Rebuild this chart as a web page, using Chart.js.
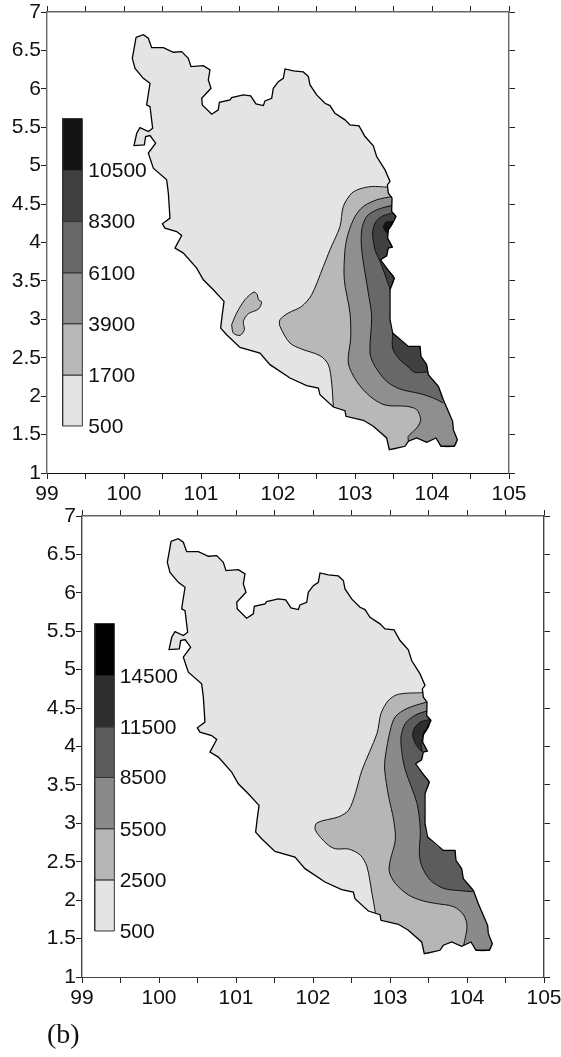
<!DOCTYPE html>
<html>
<head>
<meta charset="utf-8">
<script src="https://cdn.jsdelivr.net/npm/chart.js@4"></script>
<style>
  html, body { margin: 0; padding: 0; background: #fff; width: 561px; height: 1057px; overflow: hidden; }
  canvas { position: absolute; left: 0; }
  #chartA { top: 0; }
  #chartB { top: 500px; }
  #caption { position: absolute; left: 47px; top: 1018px; font: 28px "Liberation Serif", serif; color: #111; }
</style>
</head>
<body>
<canvas id="chartA" width="561" height="500"></canvas>
<canvas id="chartB" width="561" height="520"></canvas>
<div id="caption">(b)</div>
<script>
// AXIS LABELS
const xTickLabels = ['99', '100', '101', '102', '103', '104', '105'];
const yTickLabels = ['1', '1.5', '2', '2.5', '3', '3.5', '4', '4.5', '5', '5.5', '6', '6.5', '7'];

// COASTLINE, clockwise from the north west tip [lon, lat]
const coast = [
  [100.156,6.671],[100.251,6.705],[100.316,6.658],[100.359,6.536],[100.511,6.536],[100.641,6.476],[100.749,6.484],
  [100.835,6.397],[100.870,6.289],[101.030,6.302],[101.117,6.246],[101.095,6.116],[101.130,6.007],[101.009,5.877],
  [101.017,5.791],[101.139,5.669],[101.225,5.726],[101.238,5.825],[101.377,5.856],[101.398,5.886],[101.550,5.921],
  [101.645,5.908],[101.714,5.804],[101.810,5.782],[101.831,5.843],[101.918,5.877],[101.939,6.007],[102.004,6.094],
  [102.069,6.137],[102.091,6.259],[102.199,6.233],[102.329,6.220],[102.394,6.159],[102.416,6.051],[102.502,5.921],
  [102.610,5.812],[102.675,5.782],[102.740,5.682],[102.870,5.596],[102.935,5.531],[103.052,5.518],[103.130,5.379],
  [103.238,5.257],[103.281,5.119],[103.390,4.945],[103.455,4.794],[103.420,4.750],[103.433,4.642],[103.481,4.577],
  [103.476,4.404],[103.532,4.339],[103.476,4.230],[103.433,4.165],[103.424,4.057],[103.485,3.940],[103.433,3.927],
  [103.411,3.827],[103.333,3.775],[103.411,3.667],[103.511,3.537],[103.455,3.385],[103.455,2.995],[103.489,2.821],
  [103.693,2.648],[103.844,2.648],[103.857,2.518],[103.931,2.410],[103.952,2.280],[104.082,2.128],[104.147,1.954],
  [104.268,1.673],[104.277,1.564],[104.329,1.434],[104.290,1.348],[104.117,1.348],[104.052,1.456],[103.931,1.400],
  [103.801,1.456],[103.693,1.413],[103.649,1.348],[103.446,1.304],[103.411,1.456],[103.238,1.608],[103.108,1.686],
  [102.883,1.738],[102.870,1.811],[102.719,1.859],[102.545,2.019],[102.524,2.106],[102.372,2.137],[102.156,2.236],
  [101.896,2.410],[101.766,2.561],[101.506,2.635],[101.333,2.800],[101.255,2.886],[101.273,3.038],[101.299,3.233],
  [101.160,3.385],[101.030,3.515],[100.944,3.667],[100.771,3.862],[100.662,3.927],[100.749,4.091],[100.684,4.143],
  [100.532,4.187],[100.498,4.243],[100.597,4.317],[100.576,4.642],[100.554,4.815],[100.381,4.967],[100.316,5.162],
  [100.411,5.292],[100.338,5.392],[100.281,5.379],[100.264,5.270],[100.130,5.262],[100.165,5.422],[100.208,5.496],
  [100.316,5.444],[100.372,5.487],[100.338,5.769],[100.294,5.791],[100.338,6.072],[100.251,6.137],[100.143,6.267],
  [100.108,6.397],[100.143,6.593]
];

// MAP (a) CONTOURS, each runs from its southern coast end to its northern coast end
const contourA1700 = [
  [102.719,1.859],[102.697,2.171],[102.654,2.410],[102.545,2.527],[102.307,2.613],[102.156,2.691],[102.026,2.908],
  [102.026,2.995],[102.134,3.082],[102.307,3.168],[102.437,3.320],[102.589,3.688],[102.675,3.905],[102.805,4.208],
  [102.848,4.469],[102.957,4.642],[103.065,4.698],[103.216,4.729],[103.420,4.720]
];
const contourA3900 = [
  [103.693,1.413],[103.693,1.478],[103.801,1.586],[103.853,1.694],[103.801,1.824],[103.671,1.868],[103.390,1.885],
  [103.195,1.998],[103.022,2.193],[102.913,2.431],[102.944,2.756],[102.935,3.082],[102.861,3.515],[102.870,3.905],
  [102.913,4.122],[103.000,4.339],[103.108,4.469],[103.281,4.555],[103.481,4.599]
];
const contourA6100 = [
  [104.147,1.911],[104.017,1.976],[103.844,2.033],[103.584,2.093],[103.411,2.193],[103.260,2.388],[103.195,2.561],
  [103.216,3.038],[103.173,3.342],[103.087,3.905],[103.087,4.165],[103.152,4.339],[103.281,4.425],[103.476,4.482]
];
const contourA8300North = [
  [103.455,3.394],[103.390,3.580],[103.316,3.775],[103.260,3.905],[103.229,4.122],[103.260,4.252],[103.346,4.339],[103.476,4.382]
];
const contourA8300South = [
  [103.931,2.314],[103.771,2.310],[103.693,2.379],[103.563,2.496],[103.489,2.626],[103.489,2.821]
];
// closed pockets, no coast needed
const pocketA1700 = [
  [101.398,2.930],[101.463,3.082],[101.571,3.255],[101.688,3.355],[101.732,3.320],[101.745,3.255],[101.788,3.225],
  [101.745,3.133],[101.615,3.073],[101.550,2.973],[101.563,2.865],[101.506,2.791],[101.420,2.821]
];
const pocketA10500 = [
  [103.498,4.273],[103.403,4.265],[103.368,4.200],[103.420,4.113],[103.433,4.165],[103.476,4.230]
];

// MAP (b) CONTOURS
const contourB2500 = [
  [102.810,1.837],[102.766,2.088],[102.701,2.435],[102.615,2.586],[102.463,2.665],[102.290,2.669],[102.182,2.730],
  [102.030,2.912],[102.052,3.007],[102.333,3.085],[102.463,3.172],[102.550,3.388],[102.636,3.692],[102.831,4.169],
  [102.883,4.430],[102.983,4.603],[103.113,4.681],[103.430,4.700]
];
const contourB5500 = [
  [103.957,1.416],[104.000,1.655],[103.957,1.806],[103.827,1.915],[103.589,1.958],[103.437,1.988],[103.242,2.066],
  [103.069,2.218],[102.991,2.370],[103.004,2.521],[103.069,2.782],[103.048,3.042],[102.983,3.345],[102.931,3.692],
  [102.939,3.866],[103.004,4.213],[103.069,4.386],[103.221,4.495],[103.481,4.581]
];
const contourB8500 = [
  [104.074,2.110],[103.913,2.123],[103.697,2.153],[103.524,2.261],[103.416,2.435],[103.381,2.608],[103.394,2.912],
  [103.351,3.258],[103.199,3.692],[103.156,3.909],[103.143,4.126],[103.199,4.300],[103.329,4.408],[103.481,4.464]
];
const pocketB11500 = [
  [103.524,4.352],[103.394,4.321],[103.316,4.235],[103.294,4.148],[103.329,4.039],[103.416,3.931],[103.407,4.061],
  [103.437,4.148],[103.502,4.256]
];

// COLOUR KEYS
const keyBreaksA = [1.612, 2.275, 2.943, 3.606, 4.273, 4.937, 5.613];
const keyLabelsA = ['500', '1700', '3900', '6100', '8300', '10500'];
const keyColorsA = ['#e4e4e4', '#b8b8b8', '#8f8f8f', '#686868', '#404040', '#141414'];
const keyEdgesA = [99.203, 99.459];
const keyLabelLonA = 99.537;

const keyBreaksB = [1.599, 2.264, 2.930, 3.597, 4.256, 4.919, 5.600];
const keyLabelsB = ['500', '2500', '5500', '8500', '11500', '14500'];
const keyColorsB = ['#e4e4e4', '#b6b6b6', '#8a8a8a', '#5c5c5c', '#2e2e2e', '#000000'];
const keyEdgesB = [99.165, 99.420];
const keyLabelLonB = 99.489;

const FONT = '"Liberation Sans", Arial, sans-serif';

// NEAREST COAST POINT TO A CONTOUR END
function nearestCoast(p) {
  let best = 0, bestD = Infinity;
  coast.forEach((c, i) => {
    const d = (c[0] - p[0]) ** 2 + (c[1] - p[1]) ** 2;
    if (d < bestD) { bestD = d; best = i; }
  });
  return best;
}

// CONTOUR + COAST BETWEEN ITS TWO ENDS = CLOSED BAND
function bandShape(contour) {
  const start = nearestCoast(contour[contour.length - 1]);
  const end = nearestCoast(contour[0]);
  const arc = [];
  for (let i = start; i !== end; i = (i + 1) % coast.length) arc.push(coast[i]);
  arc.push(coast[end]);
  return contour.concat(arc, [contour[0]]);
}

function shapeDataset(list, color, tension, line, width) {
  return {
    data: list.map(p => ({ x: p[0], y: p[1] })),
    showLine: true,
    fill: color ? 'shape' : false,
    backgroundColor: color || 'transparent',
    borderColor: line,
    borderWidth: width,
    tension: tension,
    pointRadius: 0
  };
}

// A BAND: FILL WITHOUT BORDER, THEN ITS CONTOUR LINE ONLY
function bandDatasets(contour, color) {
  return [
    shapeDataset(bandShape(contour), color, 0.3, 'transparent', 0),
    shapeDataset(contour, null, 0.3, '#111', 1)
  ];
}

function pocketDataset(pocket, color, tension) {
  return shapeDataset(pocket.concat([pocket[0]]), color, tension, '#111', 1);
}

// COLOUR KEY RECTANGLES
function keyDatasets(breaks, colors, edges) {
  return colors.map((color, i) => shapeDataset([
    [edges[0], breaks[i]], [edges[1], breaks[i]], [edges[1], breaks[i + 1]],
    [edges[0], breaks[i + 1]], [edges[0], breaks[i]]
  ], color, 0, '#333', 1));
}

// KEY LABELS NEXT TO THE RECTANGLES
function keyLabelPlugin(labels, breaks, lon) {
  return {
    id: 'keyLabels',
    afterDatasetsDraw(chart) {
      const ctx = chart.ctx;
      ctx.save();
      ctx.font = '21px ' + FONT;
      ctx.fillStyle = '#111';
      ctx.textAlign = 'left';
      ctx.textBaseline = 'middle';
      labels.forEach((label, i) => {
        ctx.fillText(label, chart.scales.x.getPixelForValue(lon), chart.scales.y.getPixelForValue(breaks[i]) + 1);
      });
      ctx.restore();
    }
  };
}

function fixSize(prop, value) {
  return scale => {
    scale[prop] = value;
    scale.paddingLeft = scale.paddingRight = scale.paddingTop = scale.paddingBottom = 0;
  };
}

function axisOptions(extra, color, width) {
  return Object.assign({
    type: 'linear',
    border: { color: color, width: width },
    grid: { drawOnChartArea: false, drawTicks: true, tickLength: 6, color: '#222', lineWidth: 1 }
  }, extra);
}

// CREATE ONE MAP
function creaMappa(id, datasets, plugin, box, borders) {
  datasets.forEach((d, i) => { d.order = datasets.length - i; });
  const mainTicks = {
    autoSkip: false, maxRotation: 0, minRotation: 0, stepSize: 0.5,
    font: { family: FONT, size: 21 }, color: '#111'
  };
  const noLabels = { stepSize: 0.5, autoSkip: false, display: false };
  return new Chart(document.getElementById(id), {
    type: 'scatter',
    data: { datasets: datasets },
    plugins: [plugin],
    options: {
      responsive: false,
      animation: false,
      layout: { padding: 0 },
      plugins: { legend: { display: false }, tooltip: { enabled: false } },
      scales: {
        x: axisOptions({
          position: 'bottom', min: 99, max: 105, afterFit: fixSize('height', box.bottom),
          ticks: Object.assign({}, mainTicks, {
            padding: 3,
            callback: v => xTickLabels.includes(String(v)) ? String(v) : ''
          })
        }, borders.bottom, 1),
        y: axisOptions({
          position: 'left', min: 1, max: 7, afterFit: fixSize('width', box.left),
          ticks: Object.assign({}, mainTicks, {
            padding: 0,
            callback: v => yTickLabels.includes(String(v)) ? String(v) : ''
          })
        }, borders.left, 1.4),
        xTop: axisOptions({
          position: 'top', min: 99, max: 105, afterFit: fixSize('height', box.top), ticks: noLabels
        }, borders.top, 1.4),
        yRight: axisOptions({
          position: 'right', min: 1, max: 7, afterFit: fixSize('width', box.right), ticks: noLabels
        }, borders.right, 1.4)
      }
    }
  });
}

const closedCoast = coast.concat([coast[0]]);

// MAP (a)
creaMappa('chartA', [
  shapeDataset(closedCoast, keyColorsA[0], 0, 'transparent', 0),
  ...bandDatasets(contourA1700, keyColorsA[1]),
  pocketDataset(pocketA1700, keyColorsA[1], 0.3),
  ...bandDatasets(contourA3900, keyColorsA[2]),
  ...bandDatasets(contourA6100, keyColorsA[3]),
  ...bandDatasets(contourA8300North, keyColorsA[4]),
  ...bandDatasets(contourA8300South, keyColorsA[4]),
  pocketDataset(pocketA10500, keyColorsA[5], 0.2),
  shapeDataset(closedCoast, null, 0, '#000', 1.3),
  ...keyDatasets(keyBreaksA, keyColorsA, keyEdgesA)
],
  keyLabelPlugin(keyLabelsA, keyBreaksA, keyLabelLonA),
  { left: 47, right: 52, top: 12, bottom: 27 },
  { left: '#666', right: '#666', top: '#666', bottom: '#111' });

// MAP (b)
creaMappa('chartB', [
  shapeDataset(closedCoast, keyColorsB[0], 0, 'transparent', 0),
  ...bandDatasets(contourB2500, keyColorsB[1]),
  ...bandDatasets(contourB5500, keyColorsB[2]),
  ...bandDatasets(contourB8500, keyColorsB[3]),
  pocketDataset(pocketB11500, keyColorsB[4], 0.2),
  shapeDataset(closedCoast, null, 0, '#000', 1.3),
  ...keyDatasets(keyBreaksB, keyColorsB, keyEdgesB)
],
  keyLabelPlugin(keyLabelsB, keyBreaksB, keyLabelLonB),
  { left: 82, right: 17, top: 16, bottom: 43 },
  { left: '#444', right: '#444', top: '#666', bottom: '#444' });
</script>
</body>
</html>
